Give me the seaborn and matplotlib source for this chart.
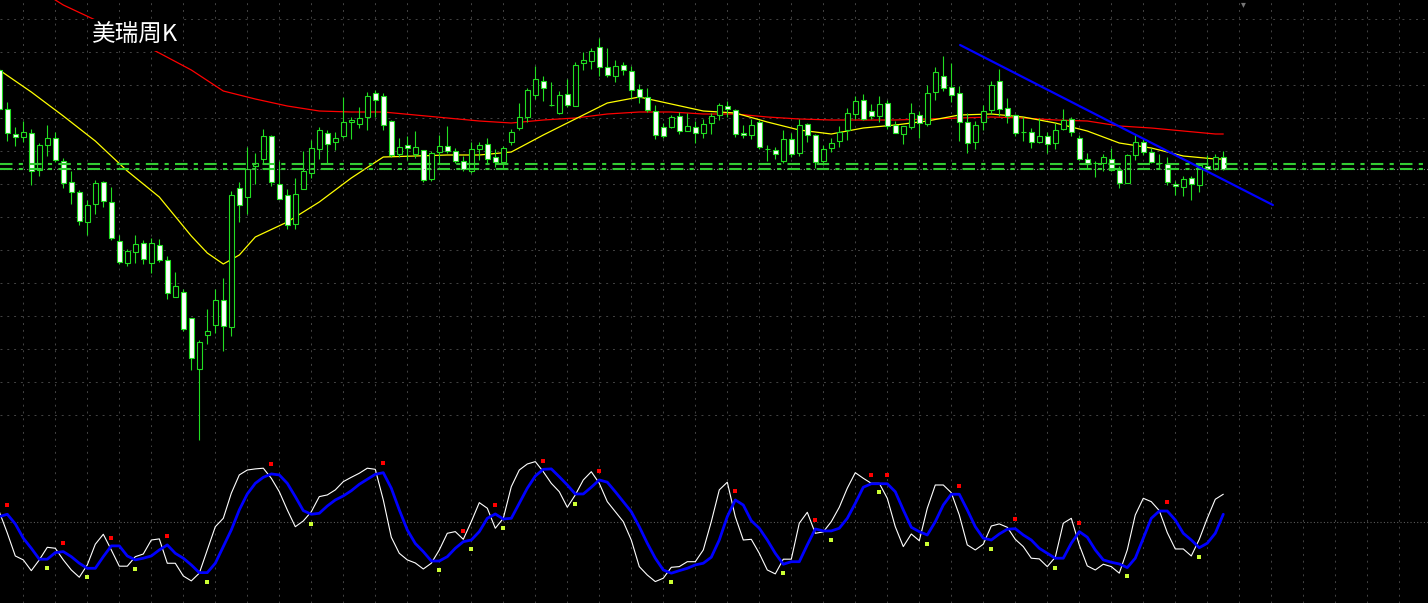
"""
plot.py
=======
Weekly candlestick chart (MT4 look) with two moving averages, a falling
trend line, support lines and a stochastic sub-window underneath.
"""

import numpy as np
import pandas as pd
import matplotlib

matplotlib.use("Agg")
import matplotlib.pyplot as plt
import seaborn as sns


TITLE = "美瑞周K"

# weekly OHLC, one value per candle
opens = [
    53.0, 49.1, 46.6, 46.3, 46.7, 43.0, 45.5, 46.2, 43.9, 41.8,
    40.8, 37.8, 39.6, 41.8, 39.8, 35.9, 33.7, 34.8, 35.7, 33.7,
    35.5, 34.0, 30.3, 30.8, 28.2, 23.1, 26.5, 27.5, 30.0, 27.3,
    41.2, 40.3, 43.4, 44.1, 46.4, 41.6, 40.5, 37.6, 41.1, 42.7,
    45.1, 46.7, 45.8, 46.4, 47.8, 47.6, 48.3, 50.7, 50.4, 47.9,
    44.6, 45.5, 44.6, 45.0, 42.1, 44.8, 45.4, 44.9, 43.9, 42.9,
    45.1, 45.6, 44.3, 43.8, 45.8, 47.2, 48.3, 50.5, 51.9, 49.5,
    48.7, 50.6, 49.4, 53.7, 53.9, 55.3, 53.3, 52.4, 53.5, 52.9,
    51.1, 50.3, 48.9, 47.3, 47.3, 48.4, 46.9, 47.3, 46.7, 47.7,
    48.5, 49.4, 49.0, 46.7, 46.5, 47.8, 45.1, 45.0, 43.9, 46.1,
    44.7, 47.6, 46.5, 43.9, 45.2, 45.9, 47.0, 48.6, 50.0, 48.9,
    48.4, 49.7, 47.5, 46.6, 47.3, 48.5, 47.6, 50.8, 52.4, 51.3,
    50.7, 47.8, 45.8, 47.8, 49.0, 51.9, 49.2, 48.5, 46.8, 46.8,
    45.8, 46.4, 45.7, 47.1, 48.1, 46.2, 44.1, 43.7, 43.7, 44.1,
    43.0, 41.7, 44.5, 45.8, 44.8, 43.7, 43.6, 41.6, 41.3, 42.2,
    41.5, 43.4, 43.1, 44.3,
]
highs = [
    53.2, 49.8, 47.3, 47.9, 47.1, 45.7, 47.5, 46.8, 44.2, 42.9,
    41.0, 40.0, 42.0, 41.9, 41.3, 36.5, 35.1, 36.5, 36.0, 36.2,
    36.1, 34.4, 32.8, 31.1, 28.2, 26.0, 29.1, 31.1, 32.2, 40.9,
    41.8, 45.3, 44.7, 47.1, 46.5, 43.9, 41.1, 42.2, 44.9, 46.0,
    47.3, 47.0, 46.8, 50.3, 48.3, 49.3, 50.8, 51.0, 50.7, 48.0,
    46.2, 46.4, 46.9, 45.0, 44.9, 46.5, 47.4, 45.2, 44.4, 45.8,
    45.8, 46.2, 45.1, 45.4, 47.1, 49.7, 51.2, 53.4, 52.4, 51.8,
    50.9, 52.1, 53.8, 54.8, 55.2, 56.2, 55.2, 54.0, 53.8, 53.4,
    51.6, 51.2, 49.5, 47.7, 48.5, 48.8, 48.7, 47.9, 48.1, 48.7,
    49.7, 49.9, 49.1, 47.5, 48.1, 48.0, 45.5, 45.3, 47.0, 46.7,
    48.1, 47.7, 46.6, 45.5, 46.2, 47.4, 49.2, 50.4, 50.6, 49.6,
    50.4, 50.0, 47.9, 47.4, 49.7, 48.9, 51.5, 53.3, 54.4, 53.7,
    51.4, 48.7, 47.9, 49.5, 51.9, 53.1, 50.2, 48.6, 48.3, 47.2,
    48.2, 46.8, 47.7, 49.1, 48.3, 46.5, 44.7, 43.9, 44.6, 45.2,
    43.4, 44.6, 46.6, 46.1, 45.2, 44.6, 44.3, 41.9, 42.4, 42.4,
    43.6, 44.5, 44.6, 44.9,
]
lows = [
    48.8, 45.9, 45.4, 45.8, 41.5, 42.4, 44.4, 43.8, 41.2, 39.6,
    37.5, 36.5, 38.6, 39.3, 36.0, 33.6, 33.4, 33.7, 33.6, 32.7,
    33.8, 30.1, 30.3, 26.9, 23.0, 16.0, 25.6, 26.7, 24.9, 26.4,
    37.8, 38.6, 41.6, 43.7, 41.4, 40.1, 37.1, 37.1, 41.1, 42.2,
    44.1, 43.6, 45.0, 46.2, 46.1, 47.2, 47.0, 48.3, 47.0, 44.3,
    44.3, 44.0, 44.2, 41.8, 41.9, 43.7, 44.7, 43.7, 42.9, 42.7,
    44.0, 43.7, 43.3, 43.2, 45.5, 47.0, 47.8, 50.1, 49.9, 49.4,
    48.6, 49.3, 49.4, 53.0, 53.1, 52.4, 52.3, 51.8, 52.5, 50.2,
    49.7, 48.8, 46.1, 46.2, 47.2, 46.6, 46.9, 45.7, 46.2, 46.6,
    48.0, 48.3, 46.3, 46.2, 46.1, 45.1, 43.9, 44.1, 43.7, 44.3,
    44.4, 45.8, 43.2, 43.5, 44.8, 45.3, 46.0, 48.1, 48.0, 48.1,
    47.8, 47.1, 46.7, 45.6, 47.1, 46.2, 47.4, 50.0, 50.9, 49.8,
    45.9, 44.7, 45.1, 47.0, 48.6, 48.4, 47.7, 46.4, 45.9, 45.2,
    45.7, 44.7, 45.1, 47.0, 46.4, 44.0, 43.1, 42.3, 42.9, 42.9,
    41.2, 41.7, 44.0, 44.5, 43.7, 43.2, 41.5, 40.5, 40.4, 40.0,
    40.8, 43.0, 43.0, 43.0,
]
closes = [
    49.1, 46.7, 46.3, 46.8, 42.9, 45.5, 46.2, 44.0, 41.7, 40.8,
    37.9, 39.5, 41.7, 39.9, 36.2, 33.8, 34.9, 35.6, 34.1, 35.7,
    34.0, 30.7, 31.4, 27.1, 24.2, 25.8, 26.9, 30.0, 27.4, 40.5,
    39.5, 43.1, 43.7, 46.4, 41.8, 40.1, 37.5, 40.6, 42.9, 45.2,
    47.0, 45.6, 46.2, 47.8, 48.0, 48.2, 50.4, 50.0, 47.5, 44.5,
    45.3, 45.2, 45.3, 42.0, 44.7, 45.4, 44.9, 43.9, 43.1, 45.1,
    45.5, 44.1, 43.8, 45.2, 46.8, 48.3, 51.0, 52.1, 51.2, 49.5,
    50.5, 49.5, 53.5, 54.0, 54.9, 53.3, 52.5, 53.4, 53.0, 51.0,
    50.3, 49.0, 46.5, 46.4, 48.3, 46.9, 47.4, 46.7, 47.6, 48.4,
    49.5, 49.1, 46.6, 46.5, 47.5, 45.3, 45.1, 44.6, 46.1, 44.6,
    47.5, 46.5, 43.8, 45.1, 45.7, 46.8, 48.7, 49.9, 48.1, 48.4,
    49.6, 47.4, 46.7, 47.4, 48.7, 47.7, 50.7, 52.8, 51.2, 50.5,
    47.8, 45.7, 47.5, 48.9, 51.5, 49.1, 48.4, 46.7, 46.8, 45.8,
    46.4, 45.6, 47.0, 48.0, 46.8, 44.1, 43.6, 43.7, 44.3, 43.0,
    41.7, 44.5, 45.8, 44.8, 43.8, 43.7, 41.8, 41.4, 42.1, 41.6,
    43.5, 43.1, 44.3, 43.1,
]

# moving averages (candle index, price)
ma_fast_idx = [0, 4, 8, 12, 16, 20, 24, 26, 28, 30, 32, 36, 40, 44, 48, 52,
               56, 60, 64, 68, 72, 76, 80, 84, 88, 92, 96, 100, 104, 108,
               112, 116, 120, 124, 128, 132, 136, 140, 144, 148, 152, 153]
ma_fast = [53.0, 50.8, 48.4, 45.9, 42.9, 40.3, 36.4, 34.7, 33.6, 34.5, 36.3,
           37.8, 39.8, 42.2, 44.3, 44.4, 44.5, 44.5, 44.8, 46.5, 48.1, 49.7,
           50.3, 49.6, 48.9, 48.7, 47.8, 47.0, 46.6, 47.2, 47.5, 47.9, 48.5,
           48.6, 48.3, 47.7, 46.9, 45.7, 45.2, 44.4, 44.1, 44.1]
ma_slow_idx = [4, 8, 12, 16, 20, 24, 28, 32, 36, 40, 44, 48, 52, 56, 60, 64,
               68, 72, 76, 80, 84, 88, 92, 96, 100, 104, 108, 112, 116, 120,
               124, 128, 132, 136, 140, 144, 148, 152, 153]
ma_slow = [61.5, 59.5, 58.0, 56.3, 54.7, 53.0, 50.9, 50.1, 49.4, 48.9, 48.8,
           48.8, 48.5, 48.2, 47.9, 47.7, 48.0, 48.2, 48.6, 48.8, 48.8, 48.6,
           48.6, 48.3, 48.1, 48.0, 48.0, 48.0, 48.1, 48.2, 48.3, 48.2, 48.0,
           47.9, 47.4, 47.2, 46.9, 46.6, 46.6]

trend_idx = [120.1, 159.2]
trend_val = [55.5, 39.5]
support_levels = [43.6, 43.15]

# stochastic oscillator, one value per candle
stoch_k = [
    57.3, 42.1, 25.7, 22.9, 15.2, 22.9, 31.9, 31.2, 22.9, 15.7,
    10.5, 19.3, 34.1, 41.2, 30.0, 18.4, 18.4, 25.2, 27.1, 37.1,
    37.9, 20.5, 20.5, 11.4, 7.9, 13.4, 30.0, 46.6, 52.6, 70.5,
    83.6, 87.1, 87.9, 88.4, 81.2, 71.6, 58.6, 46.6, 50.7, 57.3,
    68.1, 69.3, 72.9, 78.8, 81.9, 84.8, 88.4, 87.6, 65.7, 39.1,
    27.6, 22.9, 20.7, 16.4, 20.5, 30.0, 41.9, 43.1, 37.6, 50.2,
    63.8, 59.8, 45.5, 52.6, 75.2, 87.1, 91.4, 93.1, 85.9, 77.6,
    71.6, 60.5, 69.3, 80.0, 85.9, 77.6, 64.5, 57.3, 50.2, 37.1,
    18.1, 12.1, 7.4, 9.8, 17.6, 18.1, 21.6, 21.6, 30.0, 50.2,
    72.9, 78.4, 53.8, 37.1, 37.6, 27.6, 15.7, 12.9, 23.4, 23.4,
    49.1, 56.9, 41.9, 42.9, 50.2, 60.5, 74.1, 85.2, 81.2, 77.6,
    77.6, 66.9, 46.6, 32.4, 41.4, 36.6, 59.8, 76.4, 76.4, 70.9,
    55.0, 33.6, 30.0, 34.1, 47.1, 48.6, 46.2, 37.6, 32.4, 24.1,
    23.6, 18.1, 24.8, 49.1, 52.6, 33.6, 18.6, 15.7, 19.8, 18.1,
    13.4, 30.0, 55.0, 66.9, 64.5, 58.1, 42.4, 30.7, 30.7, 25.7,
    37.6, 52.6, 66.2, 69.8,
]
stoch_d = [
    53.8, 55.5, 48.6, 38.4, 31.2, 23.4, 23.4, 28.1, 28.8, 25.2,
    20.5, 16.9, 16.9, 25.2, 32.9, 32.9, 25.7, 22.9, 24.1, 25.7,
    30.0, 33.6, 27.6, 24.1, 19.3, 13.8, 13.8, 20.5, 32.4, 44.3,
    58.6, 70.0, 77.6, 81.9, 84.3, 83.6, 77.6, 68.1, 58.1, 55.5,
    56.2, 61.4, 65.7, 68.6, 72.3, 76.9, 80.5, 84.0, 85.2, 74.1,
    58.6, 44.3, 34.6, 28.8, 22.1, 22.1, 25.2, 31.2, 35.9, 37.1,
    43.1, 52.6, 55.7, 52.1, 52.6, 63.3, 74.1, 82.8, 87.6, 87.9,
    82.3, 76.4, 70.0, 70.0, 74.8, 80.0, 78.4, 71.6, 64.5, 57.3,
    46.6, 34.8, 24.1, 15.7, 13.4, 15.2, 16.9, 19.3, 20.5, 24.8,
    37.1, 53.8, 65.7, 62.1, 50.9, 45.5, 37.1, 27.6, 19.8, 21.6,
    21.6, 33.6, 45.0, 43.6, 43.6, 45.5, 52.6, 63.3, 74.8, 77.3,
    77.3, 77.3, 71.6, 58.6, 46.2, 43.1, 40.7, 50.2, 62.1, 69.8,
    69.8, 58.6, 46.6, 38.4, 37.1, 41.4, 44.8, 45.2, 40.7, 37.1,
    31.2, 27.6, 24.1, 24.1, 34.8, 43.1, 39.1, 30.0, 22.9, 21.2,
    20.0, 17.4, 24.1, 38.4, 52.6, 57.8, 57.8, 51.4, 41.9, 37.1,
    31.6, 34.8, 41.9, 55.5,
]

sell_idx = [1, 8, 14, 21, 34, 48, 58, 62, 68, 75, 92, 102, 109, 111, 120,
            127, 135, 146]
sell_val = [62.1, 34.8, 38.4, 39.8, 91.2, 91.9, 43.4, 62.1, 93.4, 86.2, 71.9,
            51.2, 83.4, 83.4, 75.5, 51.9, 49.1, 64.1]
buy_idx = [6, 11, 17, 26, 39, 55, 59, 63, 72, 84, 98, 104, 110, 116, 124,
           132, 141, 150]
buy_val = [16.9, 10.5, 16.2, 6.9, 48.4, 15.5, 30.5, 45.5, 62.6, 6.9, 13.4,
           37.0, 71.2, 34.1, 30.5, 16.9, 11.2, 24.8]

CANDLE_GREEN = "#22dd22"
LEVEL_GREEN = "#33cc33"
GRID_GREY = "#444444"


def style_axis(ax, ylim):
    ax.set_facecolor("black")
    ax.set_xlim(0.0875, 178.59)
    ax.set_ylim(*ylim)
    for spine in ax.spines.values():
        spine.set_visible(False)
    ax.tick_params(length=0, labelbottom=False, labelleft=False)
    ax.set_xlabel("")
    ax.set_ylabel("")


def draw_candles(ax, df):
    bear = df["close"] < df["open"]
    fill = np.where(bear, "white", "black")
    ax.vlines(df["idx"], df["low"], df["high"], color=CANDLE_GREEN,
              linewidth=0.8, zorder=3)
    ax.bar(df["idx"], (df["close"] - df["open"]).abs(),
           bottom=df[["open", "close"]].min(axis=1), width=0.62,
           color=fill, edgecolor=CANDLE_GREEN, linewidth=0.8, zorder=4)


def main():
    sns.set_theme(style="dark", rc={"axes.facecolor": "black",
                                    "figure.facecolor": "black"})
    plt.rcParams["font.family"] = ["Noto Sans CJK SC", "DejaVu Sans"]

    df = pd.DataFrame({"open": opens, "high": highs,
                       "low": lows, "close": closes})
    df["idx"] = np.arange(len(df))

    fig = plt.figure(figsize=(14.28, 6.03), dpi=100, facecolor="black")
    ax = fig.add_axes([0, 1 - 447 / 603, 1, 447 / 603])
    osc = fig.add_axes([0, 0, 1, 153 / 603])

    vgrid = np.arange(3, 179, 4)
    hgrid = np.arange(18.47, 59.0, 3.3)
    grid_kw = dict(color=GRID_GREY, linewidth=0.7, dashes=(2, 5), zorder=0.5)
    for x in vgrid:
        ax.axvline(x, **grid_kw)
        osc.axvline(x, **grid_kw)
    for y in hgrid:
        ax.axhline(y, **grid_kw)

    # price panel
    sns.lineplot(x=ma_slow_idx, y=ma_slow, ax=ax, color="#ff0000",
                 linewidth=0.9, zorder=2)
    sns.lineplot(x=ma_fast_idx, y=ma_fast, ax=ax, color="#ffff00",
                 linewidth=0.9, zorder=2)
    draw_candles(ax, df)
    ax.axhline(closes[-1], color="#8a8a8a", linewidth=0.8,
               linestyle=(0, (1, 2)), zorder=5)
    for level in support_levels:
        ax.axhline(level, color=LEVEL_GREEN, linewidth=1.5,
                   dashes=(6, 3, 2, 3), zorder=5)
    sns.lineplot(x=trend_idx, y=trend_val, ax=ax, color="#0000ff",
                 linewidth=1.6, zorder=6)
    style_axis(ax, (15.3, 60.0))

    ax.text(0.8705, 0.991, "\u25be", transform=ax.transAxes, color="#777777",
            fontsize=7, ha="center", va="center", family="DejaVu Sans")
    fig.text(92 / 1428, 1 - 35 / 603, TITLE, color="white", fontsize=17,
             ha="left", va="center", zorder=10,
             bbox=dict(facecolor="black", edgecolor="none", pad=3))

    # stochastic panel
    osc.axhline(50, color="#5a5a5a", linewidth=0.8, linestyle=(0, (1, 2)),
                zorder=0.6)
    sns.lineplot(x=df["idx"], y=stoch_k, ax=osc, color="white",
                 linewidth=0.8, zorder=3)
    sns.lineplot(x=df["idx"], y=stoch_d, ax=osc, color="#0000ff",
                 linewidth=2.0, zorder=4)
    sns.scatterplot(x=sell_idx, y=sell_val, ax=osc, color="#ff0000",
                    marker="s", s=6, linewidth=0, zorder=5)
    sns.scatterplot(x=buy_idx, y=buy_val, ax=osc, color="#ccff33",
                    marker="s", s=6, linewidth=0, zorder=5)
    style_axis(osc, (-7.9, 101.4))

    fig.savefig("out.png", dpi=100, facecolor="black")
    plt.close(fig)


if __name__ == "__main__":
    main()
